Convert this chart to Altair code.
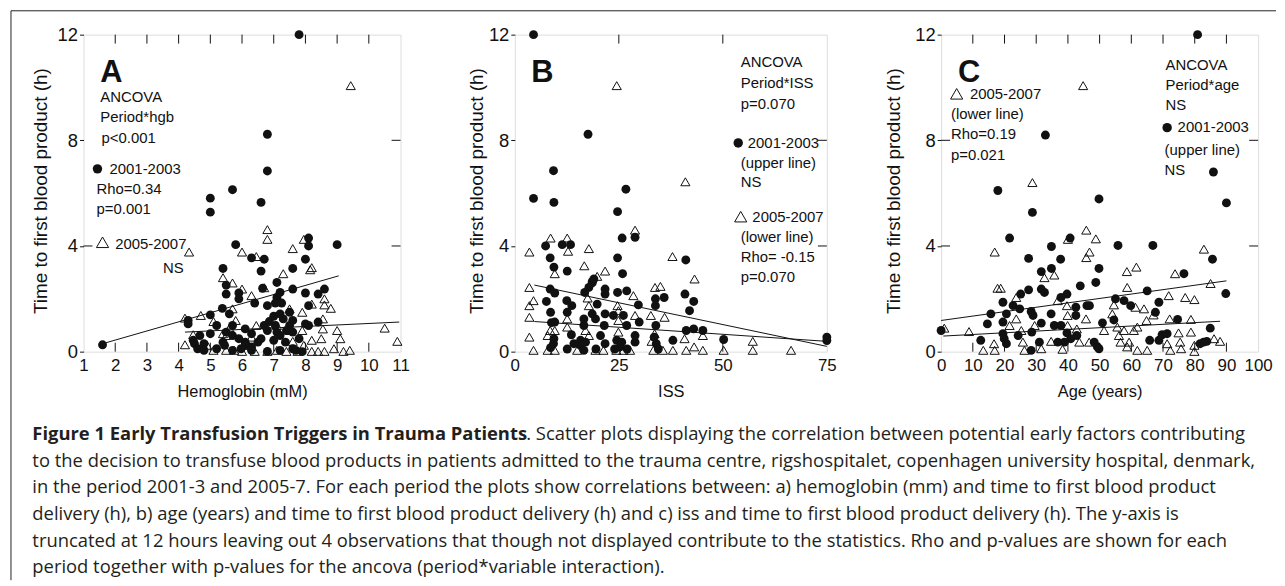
import altair as alt
import pandas as pd

BLACK = "#111111"
FONT = "Liberation Sans"
CAPFONT = "Open Sans"

# ---------------- Panel A : Hemoglobin ----------------
a_circ_x = [7.8, 6.8, 6.8, 5.7, 5.0, 5.0, 6.6, 9.0, 8.1, 8.1, 5.8, 6.3, 6.7, 8.0, 5.4, 6.6, 7.6, 1.6,
            5.5, 5.5, 5.9, 5.9, 6.65, 7.1, 7.2, 7.1, 7.05, 7.25, 7.6, 8.0, 8.4, 8.6, 8.1, 6.4, 6.8,
            5.38, 5.6, 5.0, 4.3, 4.3, 5.2, 5.7, 5.5, 5.7, 5.0, 4.67, 4.46, 4.5, 4.6, 4.8, 5.4, 5.45,
            6.1, 6.1, 5.97, 6.3, 6.3, 6.5, 6.6, 6.7, 6.8, 6.86, 7.0, 7.2, 7.3, 7.5, 7.6, 7.5, 7.4,
            7.6, 7.1, 7.05, 7.2, 7.0, 7.37, 7.6, 7.2, 6.8, 8.0, 8.1, 8.4, 7.8, 7.9, 7.7, 5.7, 5.2,
            4.8, 6.1, 6.3, 5.9]
a_circ_y = [12.0, 8.23, 6.84, 6.13, 5.81, 5.28, 5.65, 4.05, 4.3, 4.0, 4.05, 3.55, 3.5, 3.5, 3.15, 3.05, 3.15, 0.26,
            2.52, 2.18, 2.22, 2.0, 2.4, 2.62, 2.24, 2.05, 1.84, 1.84, 2.37, 2.22, 2.18, 2.37, 1.74, 1.84, 1.74,
            1.64, 1.43, 1.39, 1.18, 1.05, 0.99, 0.99, 0.74, 0.61, 0.68, 0.61, 0.43, 0.3, 0.11, 0.3, 0.36, 0.24,
            0.36, 0.24, 0.11, 0.18, 0.05, 0.36, 0.49, 0.99, 0.8, 1.14, 1.34, 1.43, 1.24, 1.49, 1.18, 0.99, 0.8,
            0.74, 0.74, 0.99, 0.61, 0.43, 0.36, 0.11, 0.05, 0.01, 1.05, 0.99, 1.12, 0.49, 0.0, 0.05, 0.05, 0.11,
            0.05, 0.86, 0.68, 0.49]
a_tri_x = [9.43, 4.33, 6.8, 6.8, 6.0, 6.45, 7.6, 7.95, 8.15, 8.2, 7.3, 5.4, 5.7, 6.0, 6.3, 6.7, 8.6, 8.6,
           8.8, 7.9, 8.2, 4.2, 4.7, 5.1, 5.8, 6.45, 7.1, 7.5, 7.9, 8.55, 8.55, 9.0, 9.1, 10.5, 10.9, 5.6,
           5.5, 4.46, 4.2, 4.9, 5.1, 5.5, 5.75, 6.0, 6.2, 6.4, 6.8, 7.1, 7.4, 7.6, 7.75, 7.95, 8.2, 8.4,
           8.6, 8.9, 9.2, 9.4, 7.5, 8.2, 8.5, 5.7, 5.4, 6.3]
a_tri_y = [10.07, 3.77, 4.62, 4.25, 3.77, 3.6, 3.9, 4.25, 3.1, 3.18, 2.95, 2.8, 2.6, 2.37, 2.12, 2.42, 2.0, 1.77,
           1.64, 1.49, 1.8, 1.27, 1.37, 1.14, 1.18, 0.99, 0.99, 0.8, 0.8, 1.24, 0.86, 0.8, 0.49, 0.89, 0.39, 0.89,
           0.61, 0.64, 0.26, 0.24, 0.05, 0.05, 0.05, 0.01, 0.24, 0.01, 0.01, 0.05, 0.01, 0.39, 0.01, 0.24, 0.01, 0.01,
           0.01, 0.11, 0.01, 0.05, 1.62, 0.43, 0.49, 1.62, 0.68, 0.55]
a_line_x = [1.6, 9.05, 4.2, 10.96]
a_line_y = [0.30, 2.87, 0.74, 1.12]
a_line_g = ["2001-2003", "2001-2003", "2005-2007", "2005-2007"]

# ---------------- Panel B : ISS ----------------
b_circ_x = [4.5, 17.6, 9.3, 4.5, 9.4, 26.7, 24.7, 25.8, 28.9, 7.4, 11.4, 13.4, 8.5, 9.4, 12.6, 18.6, 24.7, 25.9,
            41.1, 7.6, 8.5, 9.6, 8.6, 8.8, 9.6, 9.4, 9.3, 12.5, 13.7, 12.6, 13.6, 15.8, 15.8, 17.0, 16.6, 18.6,
            19.4, 16.6, 19.8, 16.8, 17.8, 18.6, 19.0, 16.6, 21.7, 20.6, 21.5, 21.7, 21.7, 21.7, 24.7, 26.9, 23.7,
            26.1, 26.9, 24.5, 25.7, 25.3, 28.9, 28.9, 29.7, 29.9, 33.8, 33.8, 35.9, 33.9, 34.0, 38.0, 40.9, 43.0,
            42.0, 41.2, 43.0, 45.2, 50.2, 75.0, 75.0, 8.6, 12.6, 14.2, 19.5, 24.0, 27.0, 33.5, 34.5]
b_circ_y = [12.0, 8.23, 6.85, 5.8, 5.65, 6.15, 5.3, 4.3, 4.33, 4.0, 4.05, 4.05, 3.55, 3.2, 3.05, 2.65, 3.55, 2.95,
            3.47, 1.9, 2.37, 2.22, 1.49, 1.1, 1.12, 0.49, 0.3, 1.93, 1.74, 1.49, 0.64, 0.43, 0.24, 0.36, 0.99, 1.43,
            1.24, 1.24, 1.8, 2.24, 2.43, 2.6, 2.75, 0.05, 0.3, 0.61, 0.99, 1.43, 2.18, 2.37, 2.24, 2.3, 1.37,
            1.37, 0.99, 0.43, 0.36, 0.18, 0.36, 0.61, 1.77, 1.12, 2.0, 1.74, 2.05, 0.99, 0.3, 0.43, 2.18, 1.9,
            1.55, 0.8, 0.86, 0.8, 0.46, 0.55, 0.42, 0.15, 0.1, 0.3, 0.1, 0.1, 0.1, 0.55, 0.1]
b_tri_x = [24.5, 41.0, 28.9, 3.5, 8.6, 12.6, 12.8, 17.8, 9.6, 16.7, 21.7, 19.8, 37.9, 43.2, 3.5, 4.5, 3.5, 3.5,
           3.5, 4.5, 9.6, 8.5, 7.9, 7.9, 9.6, 12.6, 12.6, 17.8, 17.0, 17.8, 17.5, 15.0, 19.4, 21.3, 24.7, 24.9,
           24.9, 24.9, 24.4, 26.1, 27.7, 28.5, 28.9, 32.7, 33.7, 35.0, 36.0, 33.6, 32.9, 33.3, 35.6, 38.0, 45.2,
           40.8, 41.2, 43.1, 45.2, 50.2, 57.2, 57.2, 66.4]
b_tri_y = [10.07, 6.43, 4.6, 3.77, 4.3, 4.3, 3.8, 3.9, 2.95, 3.25, 3.05, 2.85, 3.6, 2.75, 2.43, 1.93, 1.74, 1.3,
           0.55, 0.05, 0.8, 0.8, 0.61, 0.05, 0.05, 1.24, 0.93, 0.61, 0.8, 1.74, 2.03, 0.05, 0.05, 0.05, 1.74, 1.55,
           1.18, 0.74, 0.05, 0.05, 0.05, 2.12, 1.37, 1.37, 2.43, 2.47, 1.3, 0.68, 0.39, 0.05, 0.05, 0.05, 0.61,
           0.49, 0.05, 0.18, 0.05, 0.05, 0.39, 0.05, 0.05]
b_line_x = [4.7, 75.0, 4.7, 75.0]
b_line_y = [2.52, 0.20, 1.14, 0.39]
b_line_g = ["a", "a", "b", "b"]

# ---------------- Panel C : Age ----------------
c_circ_x = [80.9, 32.9, 85.9, 90.0, 17.9, 28.8, 49.8, 21.6, 27.6, 34.8, 40.7, 55.8, 66.8, 85.6, 37.7, 34.8, 31.6,
            49.8, 76.6, 0.0, 12.5, 14.6, 15.7, 19.5, 20.6, 19.5, 19.5, 19.9, 20.6, 22.7, 25.1, 24.8, 24.3, 27.6,
            28.4, 29.0, 28.6, 28.4, 31.6, 32.6, 31.6, 31.0, 34.7, 35.7, 37.8, 37.8, 36.8, 39.7, 39.7, 40.9, 38.9,
            42.5, 42.5, 42.8, 43.9, 46.0, 46.8, 48.8, 48.3, 49.3, 50.9, 49.8, 54.5, 55.0, 57.7, 59.8, 65.0, 65.8,
            67.6, 68.7, 68.7, 69.7, 71.3, 74.6, 81.7, 82.8, 83.8, 84.9, 89.8]
c_circ_y = [12.0, 8.2, 6.8, 5.63, 6.1, 5.27, 5.78, 4.3, 3.53, 3.98, 4.3, 4.02, 4.02, 3.5, 3.5, 3.15, 3.03,
            3.15, 2.95, 0.8, 0.43, 1.05, 1.43, 1.87, 1.43, 1.12, 0.68, 0.49, 0.3, 1.74, 2.18, 1.62, 0.61, 2.34,
            1.52, 1.37, 0.74, 0.05, 2.37, 2.24, 1.08, 0.36, 1.43, 0.99, 2.05, 0.99, 0.36, 2.18, 0.71, 0.49, 0.36,
            1.68, 1.37, 0.61, 2.49, 1.74, 1.74, 2.62, 0.36, 0.18, 1.09, 0.11, 1.2, 2.0, 1.93, 1.74, 2.3, 0.43,
            1.49, 1.87, 0.43, 0.64, 0.68, 1.22, 0.3, 0.36, 0.39, 0.89, 2.2]
c_tri_x = [44.8, 28.8, 16.9, 40.0, 45.8, 48.8, 46.8, 45.8, 82.9, 58.6, 61.6, 73.8, 32.6, 35.7, 1.0, 8.8, 13.3,
           17.8, 18.8, 16.7, 16.9, 21.6, 23.7, 23.7, 25.3, 25.8, 26.3, 29.5, 31.6, 34.7, 36.8, 38.3, 39.7, 39.9,
           39.9, 42.8, 43.6, 45.7, 46.7, 51.4, 54.0, 54.5, 55.6, 56.1, 56.6, 57.7, 58.7, 58.7, 61.3, 60.8, 61.9,
           59.3, 61.9, 64.0, 64.8, 65.0, 67.0, 71.8, 71.3, 72.3, 72.1, 74.9, 75.4, 75.7, 77.0, 78.8, 78.8, 79.9,
           79.9, 79.9, 85.0, 86.1, 88.0]
c_tri_y = [10.07, 6.4, 3.77, 4.25, 4.6, 4.27, 3.77, 3.56, 3.88, 3.03, 3.2, 2.95, 2.8, 2.9, 0.89, 0.76, 0.05,
           2.4, 2.4, 0.3, 0.05, 0.99, 2.05, 1.24, 0.8, 0.36, 0.05, 0.99, 0.11, 0.39, 1.93, 0.09, 1.74, 1.37,
           0.99, 0.86, 0.36, 1.24, 0.36, 0.8, 1.43, 1.77, 0.93, 0.61, 0.36, 0.8, 2.43, 0.18, 1.68, 0.8, 0.93,
           0.36, 0.05, 1.62, 1.18, 0.05, 1.39, 2.12, 0.3, 0.05, 1.24, 0.71, 0.36, 0.11, 2.05, 0.74, 1.22, 1.97,
           0.24, 0.01, 2.58, 0.49, 0.39]
c_line_x = [0.0, 90.0, 0.7, 88.0]
c_line_y = [1.18, 2.68, 0.59, 1.15]
c_line_g = ["2001-2003", "2001-2003", "2005-2007", "2005-2007"]

# ---------------- annotations (data coordinates) ----------------
a_ann_text = ["ANCOVA", "Period*hgb", "p<0.001", "2001-2003", "Rho=0.34", "p=0.001", "2005-2007", "NS"]
a_ann_x = [1.53, 1.53, 1.57, 1.82, 1.41, 1.41, 2.0, 3.51]
a_ann_y = [9.62, 8.87, 8.08, 6.90, 6.17, 5.41, 4.08, 3.16]
b_ann_text = ["ANCOVA", "Period*ISS", "p=0.070", "2001-2003", "(upper line)", "NS", "2005-2007",
              "(lower line)", "Rho= -0.15", "p=0.070"]
b_ann_x = [54.3, 54.3, 54.3, 56.0, 54.3, 54.3, 57.1, 54.3, 54.3, 54.3]
b_ann_y = [10.98, 10.15, 9.36, 7.89, 7.14, 6.43, 5.10, 4.32, 3.57, 2.82]
c_ann_text = ["2005-2007", "(lower line)", "Rho=0.19", "p=0.021", "ANCOVA", "Period*age", "NS",
              "2001-2003", "(upper line)", "NS"]
c_ann_x = [9.1, 3.1, 3.1, 3.1, 70.8, 70.8, 70.8, 74.6, 70.5, 70.5]
c_ann_y = [9.74, 8.98, 8.23, 7.44, 10.86, 10.08, 9.32, 8.50, 7.63, 6.88]
# legend symbols inside panels: (circle x, circle y, triangle x, triangle y)
a_leg = [1.44, 6.92, 1.60, 4.14]
b_leg = [53.7, 7.90, 54.3, 5.11]
c_leg = [71.3, 8.48, 4.9, 9.76]

caption_bold = "Figure 1 Early Transfusion Triggers in Trauma Patients"
caption_lines = [
    ". Scatter plots displaying the correlation between potential early factors contributing",
    "to the decision to transfuse blood products in patients admitted to the trauma centre, rigshospitalet, copenhagen university hospital, denmark,",
    "in the period 2001-3 and 2005-7. For each period the plots show correlations between: a) hemoglobin (mm) and time to first blood product",
    "delivery (h), b) age (years) and time to first blood product delivery (h) and c) iss and time to first blood product delivery (h). The y-axis is",
    "truncated at 12 hours leaving out 4 observations that though not displayed contribute to the statistics. Rho and p-values are shown for each",
    "period together with p-values for the ancova (period*variable interaction).",
]

H = 319
ONE = pd.DataFrame({"k": [0]})


def panel(letter, cx, cy, tx, ty, lx, ly, lg, ann_t, ann_x, ann_y, leg, xdom, xlabels, xinner,
          xtitle, w, title_x, left_in, extra=None):
    xs = alt.Scale(domain=xdom, nice=False, zero=False)
    ys = alt.Scale(domain=[0, 12], nice=False, zero=False)
    xaxis = alt.Axis(values=xlabels, title=xtitle, grid=False, domain=False, ticks=False,
                     labelPadding=6, labelFontSize=17, labelFont=FONT, labelColor=BLACK,
                     labelFlush=False, format="d", titleFont=FONT, titleFontSize=16.5,
                     titleFontWeight="normal", titleColor=BLACK, titleY=40, titleBaseline="middle")
    yaxis = alt.Axis(values=[0, 4, 8, 12], title="Time to first blood product (h)", grid=False,
                     domain=False, ticks=True, tickSize=4, tickColor=BLACK, labelPadding=2,
                     labelFontSize=18.5, labelFont=FONT, labelColor=BLACK, labelFlush=False,
                     titleFont=FONT, titleFontSize=19, titleFontWeight="normal", titleColor=BLACK,
                     titleX=title_x, titleY=157, titleBaseline="middle", titleAngle=-90, titleAlign="center")

    def X(f):
        return alt.X(f"{f}:Q", scale=xs, axis=xaxis)

    def Y(f):
        return alt.Y(f"{f}:Q", scale=ys, axis=yaxis)

    circles = alt.Chart(pd.DataFrame({"x": cx, "y": cy})).mark_point(
        shape="circle", filled=True, size=80, color=BLACK, opacity=1).encode(x=X("x"), y=Y("y"))
    tris = alt.Chart(pd.DataFrame({"x": tx, "y": ty})).mark_point(
        shape="triangle-up", filled=False, size=85, color=BLACK, strokeWidth=1, opacity=1).encode(
        x=X("x"), y=Y("y"))
    lines = alt.Chart(pd.DataFrame({"x": lx, "y": ly, "g": lg})).mark_line(
        color=BLACK, strokeWidth=1).encode(x=X("x"), y=Y("y"), detail="g:N")
    tdf = pd.DataFrame({"t": xinner})
    top_ticks = alt.Chart(tdf).mark_rule(color=BLACK, strokeWidth=1).encode(
        x=X("t"), y=alt.value(0), y2=alt.value(9))
    bot_ticks = alt.Chart(tdf).mark_rule(color=BLACK, strokeWidth=1).encode(
        x=X("t"), y=alt.value(H - 9), y2=alt.value(H))
    right_ticks = alt.Chart(pd.DataFrame({"t": [4, 8]})).mark_rule(color=BLACK, strokeWidth=1).encode(
        y=Y("t"), x=alt.value(w - 9), x2=alt.value(w))
    layers = [top_ticks, bot_ticks, right_ticks, lines, tris, circles]
    if left_in:
        layers.append(alt.Chart(pd.DataFrame({"t": left_in})).mark_rule(color=BLACK, strokeWidth=1).encode(
            y=Y("t"), x=alt.value(0), x2=alt.value(9)))
    ann = alt.Chart(pd.DataFrame({"x": ann_x, "y": ann_y, "text": ann_t})).mark_text(
        align="left", baseline="middle", font=FONT, fontSize=15, color=BLACK).encode(
        x=X("x"), y=Y("y"), text="text:N")
    big = alt.Chart(pd.DataFrame({"x": [xdom[0] + (xdom[1] - xdom[0]) * 0.053], "y": [10.56], "text": [letter]})).mark_text(
        align="left", baseline="middle", font=FONT, fontSize=31, fontWeight="bold", color=BLACK).encode(
        x=X("x"), y=Y("y"), text="text:N")
    leg_c = alt.Chart(pd.DataFrame({"x": [leg[0]], "y": [leg[1]]})).mark_point(
        shape="circle", filled=True, size=90, color=BLACK, opacity=1).encode(x=X("x"), y=Y("y"))
    leg_t = alt.Chart(pd.DataFrame({"x": [leg[2]], "y": [leg[3]]})).mark_point(
        shape="triangle-up", filled=False, size=150, color=BLACK, strokeWidth=1, opacity=1).encode(
        x=X("x"), y=Y("y"))
    layers += [ann, big, leg_c, leg_t]
    if extra:
        layers += extra
    return alt.layer(*layers).properties(width=w, height=H)


# decorations (caption + frame) attached to panel A; offsets relative to panel A's plot origin
extra = []
extra.append(alt.Chart(ONE).mark_rule(color="#222222", strokeWidth=1).encode(
    x=alt.value(-73), y=alt.value(-24), y2=alt.value(549)))
extra.append(alt.Chart(ONE).mark_rule(color="#222222", strokeWidth=1).encode(
    x=alt.value(-73), x2=alt.value(1200), y=alt.value(-24)))
CAP_X = -51.5
CAP_Y0 = 402
CAP_DY = 26.8
CAP_FS = 18.5
BOLD_W = 497
extra.append(alt.Chart(ONE).mark_text(
    text=caption_bold, align="left", baseline="middle", font=CAPFONT, fontSize=CAP_FS,
    fontWeight="bold", color="#231f20").encode(x=alt.value(CAP_X), y=alt.value(CAP_Y0)))
for i, line in enumerate(caption_lines):
    xpos = CAP_X + BOLD_W if i == 0 else CAP_X
    ypos = CAP_Y0 + CAP_DY * i
    extra.append(alt.Chart(ONE).mark_text(
        text=line, align="left", baseline="middle", font=CAPFONT, fontSize=CAP_FS,
        color="#231f20").encode(x=alt.value(xpos), y=alt.value(ypos)))

pA = panel("A", a_circ_x, a_circ_y, a_tri_x, a_tri_y, a_line_x, a_line_y, a_line_g,
           a_ann_text, a_ann_x, a_ann_y, a_leg, [1, 11], list(range(1, 12)), list(range(2, 11)),
           "Hemoglobin (mM)", 319, -43, [4], extra)
pB = panel("B", b_circ_x, b_circ_y, b_tri_x, b_tri_y, b_line_x, b_line_y, b_line_g,
           b_ann_text, b_ann_x, b_ann_y, b_leg, [0, 75], [0, 25, 50, 75], [25, 50],
           "ISS", 314, -39, [])
pC = panel("C", c_circ_x, c_circ_y, c_tri_x, c_tri_y, c_line_x, c_line_y, c_line_g,
           c_ann_text, c_ann_x, c_ann_y, c_leg, [0, 100], list(range(0, 101, 10)), list(range(10, 100, 10)),
           "Age (years)", 319, -48, [4, 8])

chart = alt.hconcat(pA, pB, pC, spacing=115, bounds="flush").properties(
    padding={"left": 2, "top": 0, "right": 0, "bottom": 0}
).configure_view(stroke=BLACK, strokeWidth=1).configure(background="white")

chart.save("out.html", embed_options={"renderer": "svg", "actions": False})
